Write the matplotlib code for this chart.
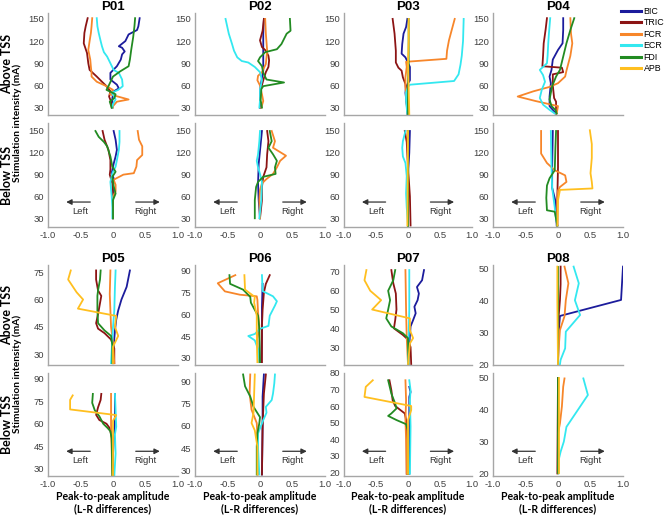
import matplotlib
matplotlib.use('Agg')
import matplotlib.pyplot as plt
from matplotlib.lines import Line2D

MUSCLES = ['BIC', 'TRIC', 'FCR', 'ECR', 'FDI', 'APB']
COLORS = {'BIC': '#1C1C9C', 'TRIC': '#8C1414', 'FCR': '#F7862A',
          'ECR': '#33E8F0', 'FDI': '#228B22', 'APB': '#FFBF1F'}

# each entry: (L-R difference values, stimulation intensity in mA)
p01_above = {
    'BIC': ([0.41, 0.39, 0.37, 0.24, 0.19, 0.09, 0.14, 0.18, 0.14, 0.12, 0.06, -0.04, -0.04, 0.06, 0.09, 0.01, -0.01, -0.01],
            [151, 140, 135, 129, 120, 113, 111, 106, 102, 95, 86, 77, 68, 61, 56, 52, 43, 30]),
    'TRIC': ([-0.39, -0.42, -0.44, -0.45, -0.40, -0.38, -0.36, -0.25, -0.17, -0.10, -0.04, -0.06, -0.03, -0.02],
             [151, 140, 131, 117, 104, 90, 81, 72, 65, 59, 52, 45, 38, 30]),
    'FCR': ([-0.32, -0.33, -0.34, -0.36, -0.38, -0.35, -0.34, -0.33, -0.33, -0.25, -0.10, 0.0, -0.05, 0.24, 0.06, 0.0, 0.0],
            [151, 140, 131, 120, 108, 95, 85, 77, 72, 65, 59, 54, 48, 41, 38, 32, 30]),
    'ECR': ([-0.25, -0.24, -0.22, -0.19, -0.17, -0.14, -0.09, -0.04, 0.01, 0.09, 0.14, 0.15, 0.08, -0.02, 0.02, 0.04, 0.0, -0.01],
            [151, 140, 131, 120, 113, 105, 99, 90, 81, 77, 68, 59, 54, 50, 45, 41, 35, 30]),
    'FDI': ([0.34, 0.33, 0.31, 0.28, 0.26, 0.24, 0.11, 0.0, -0.07, -0.10, 0.04, 0.02, -0.05, -0.02],
            [151, 140, 125, 108, 95, 86, 79, 72, 59, 54, 48, 43, 38, 30]),
}
p01_below = {
    'BIC': ([0.01, 0.04, 0.06, 0.04, 0.01, -0.02, 0.01, 0.0, 0.0, 0.0, 0.0],
            [150, 138, 124, 115, 105, 92, 85, 75, 60, 45, 30]),
    'TRIC': ([-0.16, -0.13, -0.07, -0.04, -0.04, -0.05, -0.01, 0.0, 0.0, 0.0],
             [150, 138, 124, 110, 97, 90, 78, 60, 45, 30]),
    'FCR': ([0.38, 0.40, 0.45, 0.45, 0.37, 0.36, 0.32, 0.16, 0.01, 0.04, 0.04, 0.0, 0.0, 0.0],
            [150, 138, 129, 117, 110, 101, 92, 90, 83, 76, 67, 60, 45, 30]),
    'ECR': ([0.10, 0.10, 0.09, 0.06, 0.04, -0.01, -0.04, -0.03, -0.02, -0.01, -0.01],
            [150, 135, 124, 110, 101, 92, 80, 70, 60, 45, 30]),
    'FDI': ([-0.27, -0.22, -0.14, -0.09, -0.04, -0.01, 0.04, -0.01, 0.01, 0.04, 0.0, 0.0, 0.0],
            [150, 142, 135, 129, 115, 101, 94, 87, 74, 64, 55, 45, 30]),
}
p02_above = {
    'BIC': ([0.06, 0.05, 0.05, 0.05, 0.05, 0.03, 0.01, 0.0, 0.0, 0.0],
            [150, 130, 110, 90, 80, 70, 60, 50, 40, 30]),
    'TRIC': ([0.06, 0.04, 0.0, 0.03, 0.09, 0.13, 0.14, 0.13, 0.09, 0.05, 0.01, 0.0, 0.0],
             [150, 134, 121, 112, 107, 100, 94, 85, 78, 67, 54, 41, 30]),
    'FCR': ([0.08, 0.09, 0.11, 0.09, 0.03, -0.03, -0.04, 0.0, 0.03, 0.05, 0.02],
            [150, 130, 107, 89, 78, 73, 67, 60, 48, 39, 30]),
    'ECR': ([-0.53, -0.48, -0.43, -0.40, -0.35, -0.28, -0.18, -0.08, 0.0, 0.03, 0.0, 0.0, -0.01],
            [150, 130, 116, 107, 98, 93, 91, 85, 78, 67, 54, 40, 30]),
    'FDI': ([0.46, 0.47, 0.41, 0.33, 0.26, 0.08, 0.0, -0.03, 0.03, 0.05, 0.10, 0.37, 0.05, 0.02, 0.01, 0.03],
            [150, 134, 130, 116, 109, 105, 98, 93, 86, 77, 68, 64, 59, 55, 40, 30]),
}
p02_below = {
    'BIC': ([0.03, 0.0, -0.02, -0.03, -0.02, 0.0],
            [150, 123, 105, 78, 55, 30]),
    'TRIC': ([0.11, 0.13, 0.11, 0.10, 0.05, 0.03, 0.03, 0.0],
             [150, 136, 118, 100, 87, 73, 55, 30]),
    'FCR': ([0.18, 0.23, 0.20, 0.40, 0.31, 0.26, 0.20, 0.10, 0.03, 0.0, -0.01, 0.0],
            [150, 136, 127, 116, 109, 100, 91, 84, 78, 69, 55, 30]),
    'ECR': ([0.0, -0.01, -0.03, -0.05, -0.03, 0.0, 0.03, 0.02, -0.01],
            [150, 136, 118, 109, 100, 91, 80, 55, 30]),
    'FDI': ([0.15, 0.18, 0.13, 0.20, 0.26, 0.23, 0.24, 0.05, -0.03, -0.06, -0.08, -0.08],
            [150, 136, 127, 118, 109, 100, 91, 87, 80, 73, 55, 30]),
}
p03_above = {
    'BIC': ([-0.01, -0.03, -0.07, -0.09, -0.10, -0.04, 0.03, 0.03, -0.03, -0.04, 0.0],
            [150, 139, 130, 116, 103, 98, 85, 67, 58, 50, 20]),
    'TRIC': ([-0.24, -0.21, -0.19, -0.19, -0.15, -0.10, -0.08, -0.04, -0.03, -0.01],
             [150, 130, 107, 91, 84, 80, 71, 62, 48, 20]),
    'FCR': ([0.73, 0.68, 0.64, 0.61, 0.60, -0.03, -0.02, -0.04, -0.04, -0.03, 0.0],
            [150, 134, 121, 107, 96, 92, 85, 71, 60, 48, 20]),
    'ECR': ([0.87, 0.86, 0.84, 0.82, 0.79, 0.72, 0.03, 0.0, -0.03, -0.03, -0.01],
            [150, 120, 100, 88, 75, 66, 61, 58, 50, 40, 20]),
    'FDI': ([0.01, 0.01, 0.0, 0.0], [150, 90, 60, 20]),
    'APB': ([0.01, 0.01, 0.0, 0.01, 0.02], [150, 120, 90, 60, 20]),
}
p03_below = {
    'BIC': ([0.03, 0.02, 0.0, 0.0, 0.0], [150, 120, 90, 60, 20]),
    'TRIC': ([-0.05, -0.02, 0.0, 0.03, 0.04], [150, 135, 100, 60, 20]),
    'FCR': ([-0.01, 0.0, 0.0, 0.0], [150, 100, 60, 20]),
    'ECR': ([-0.04, -0.08, -0.09, -0.08, -0.04, -0.02, -0.03, -0.02, 0.0],
            [150, 136, 127, 115, 106, 88, 64, 45, 20]),
    'FDI': ([0.0, 0.0, 0.0, 0.0], [150, 100, 60, 20]),
    'APB': ([0.0, -0.01], [150, 20]),
}
p04_above = {
    'BIC': ([0.08, 0.08, 0.07, 0.0, -0.08, -0.10, -0.13, -0.11, -0.13, -0.13, -0.03],
            [151, 135, 117, 108, 95, 81, 72, 63, 45, 32, 22]),
    'TRIC': ([-0.17, -0.19, -0.22, -0.23, -0.24, 0.06, 0.08, -0.08, -0.08, -0.06, -0.03, -0.03],
             [151, 136, 117, 100, 86, 84, 78, 75, 60, 43, 38, 22]),
    'FCR': ([0.19, 0.20, 0.22, 0.19, 0.16, 0.13, 0.11, 0.0, -0.13, -0.38, -0.62, -0.35, 0.0, -0.02],
            [151, 130, 117, 100, 90, 80, 72, 63, 58, 52, 45, 39, 32, 22]),
    'ECR': ([-0.12, -0.14, -0.15, -0.16, -0.17, -0.28, -0.23, -0.20, -0.25, -0.28, -0.23, -0.13, -0.05],
            [151, 130, 117, 100, 90, 81, 74, 65, 54, 43, 34, 27, 22]),
    'FDI': ([0.25, 0.19, 0.13, 0.08, 0.03, -0.03, -0.09, -0.13, -0.10, -0.04, -0.02],
            [151, 135, 117, 99, 81, 72, 59, 41, 32, 27, 22]),
}
p04_below = {
    'BIC': ([-0.08, -0.09, -0.09, -0.04, -0.02], [150, 100, 72, 54, 20]),
    'TRIC': ([0.0, 0.0, -0.01, -0.01], [150, 100, 60, 20]),
    'FCR': ([-0.26, -0.26, -0.17, -0.05, 0.11, 0.13, 0.03, 0.0, -0.01, -0.01],
            [150, 119, 106, 96, 89, 80, 73, 68, 55, 20]),
    'ECR': ([-0.11, -0.10, -0.09, -0.05, -0.04, -0.01], [150, 100, 72, 45, 35, 20]),
    'FDI': ([-0.03, -0.04, -0.05, -0.13, -0.17, -0.18, -0.17, -0.05, -0.01],
            [150, 127, 96, 85, 75, 58, 41, 39, 20]),
    'APB': ([0.49, 0.52, 0.52, 0.50, 0.52, 0.53, 0.03, 0.0, -0.01],
            [151, 132, 113, 92, 80, 71, 69, 55, 20]),
}
p05_above = {
    'BIC': ([0.26, 0.21, 0.13, 0.08, 0.05, 0.03, 0.0, 0.0], [76, 67, 60, 54, 49, 43, 30, 25]),
    'TRIC': ([-0.26, -0.26, -0.23, -0.18, -0.20, -0.23, -0.26, -0.23, -0.13, -0.03, 0.02, 0.02],
             [76, 71, 65, 62, 58, 52, 47, 44, 41.5, 38, 33, 25]),
    'FCR': ([-0.04, -0.05, -0.03, 0.0, 0.02], [76, 63, 45, 36, 25]),
    'ECR': ([0.04, 0.03, 0.02, 0.0, -0.03], [76, 67, 54, 45, 25]),
    'FDI': ([-0.19, -0.20, -0.23, -0.24, -0.24, -0.23, -0.13, -0.03, -0.01, -0.01],
            [76, 71, 65, 62, 54, 47, 43, 40, 35, 25]),
    'APB': ([-0.65, -0.69, -0.56, -0.46, -0.54, 0.05, 0.03, 0.08, 0.0, 0.0],
            [76, 71, 64, 60, 55, 51, 45, 40, 34, 25]),
}
p05_below = {
    'BIC': ([0.03, 0.03, 0.0, 0.0], [80, 62, 40, 25]),
    'TRIC': ([-0.18, -0.19, -0.23, -0.26, -0.21, -0.10, -0.05, -0.02, 0.0],
             [80, 76, 71, 66, 62.5, 60, 57, 51, 25]),
    'FCR': ([-0.03, -0.03, -0.01], [80, 60, 25]),
    'ECR': ([0.03, 0.05, 0.03, 0.04, 0.02], [80, 58, 53, 40, 25]),
    'FDI': ([-0.31, -0.32, -0.28, -0.21, -0.15, -0.08, -0.04, -0.02, -0.01],
            [80, 74, 69, 65, 60, 57, 55, 50, 25]),
    'APB': ([-0.62, -0.66, -0.66, 0.05, 0.0, 0.0, 0.0], [79, 76, 69.6, 65.8, 62, 45, 25]),
}
p06_above = {
    'BIC': ([0.04, 0.03, 0.03, 0.02], [81, 65, 45, 27]),
    'TRIC': ([0.15, 0.09, 0.06, 0.04, 0.03, 0.03], [87, 81, 75, 63, 52, 27]),
    'FCR': ([-0.38, -0.65, -0.54, -0.31, -0.05, -0.04, -0.03, -0.01, -0.04, -0.03],
            [87, 81.4, 75.8, 73.5, 72.4, 70, 61, 52, 43, 27]),
    'ECR': ([0.03, 0.04, 0.20, 0.26, 0.23, 0.15, 0.13, 0.0, -0.08, -0.18, -0.08, -0.03, -0.01],
            [87, 76, 72.4, 69, 66, 59, 52, 50, 46.4, 45, 42, 36, 27]),
    'FDI': ([-0.47, -0.46, -0.26, -0.15, -0.14, -0.08, -0.03, -0.01, 0.0],
            [87, 81, 77, 72, 68, 63, 59, 50, 27]),
    'APB': ([-0.24, -0.23, -0.08, -0.09, -0.05, -0.05, -0.04], [87, 77, 72, 68, 59, 48, 27]),
}
p06_below = {
    'BIC': ([0.06, 0.04, 0.04, 0.03], [95, 80, 60, 27]),
    'TRIC': ([0.09, 0.06, 0.04, 0.03], [95, 82, 60, 27]),
    'FCR': ([-0.15, -0.16, -0.13, -0.05, -0.03, -0.03], [95, 82, 71, 62, 45, 27]),
    'ECR': ([0.23, 0.22, 0.20, 0.18, 0.09, 0.10, 0.05, -0.03, -0.03, -0.01],
            [95, 89, 82, 77.6, 73, 69, 64, 55, 45, 27]),
    'FDI': ([-0.26, -0.23, -0.15, -0.10, 0.0, -0.01, -0.04, -0.05, -0.05],
            [95, 87, 80, 73, 66, 62, 55, 46, 27]),
    'APB': ([-0.08, -0.09, -0.10, -0.13, -0.08, -0.04, -0.04], [95, 82, 69, 62, 57, 46, 27]),
}
p07_above = {
    'BIC': ([0.25, 0.22, 0.14, 0.17, 0.15, 0.10, 0.12, 0.08, 0.04, 0.03, 0.0],
            [71, 65.6, 62, 58.5, 55, 51.5, 48, 44.4, 41, 36, 21]),
    'TRIC': ([-0.26, -0.23, -0.19, -0.18, -0.20, -0.22, -0.08, 0.0, 0.04, 0.05],
             [71, 64, 58.5, 50, 44.4, 40, 36.5, 34, 30, 21]),
    'FCR': ([-0.04, -0.03, -0.02, 0.0], [71, 50, 35, 21]),
    'ECR': ([0.02, 0.02, 0.0], [71, 50, 21]),
    'FDI': ([-0.20, -0.23, -0.31, -0.28, -0.31, -0.34, -0.26, -0.08, 0.0, 0.01],
            [71, 65.6, 60, 55, 50, 45.3, 41, 37.4, 34.8, 21]),
    'APB': ([-0.65, -0.68, -0.59, -0.42, -0.56, 0.03, 0.03, 0.08, 0.03, 0.0],
            [71, 65.6, 60, 55, 50, 45.3, 39, 34.8, 32, 21]),
}
p07_below = {
    'BIC': ([0.02, 0.04, 0.02, 0.02], [71.6, 68.5, 65.5, 19]),
    'TRIC': ([-0.29, -0.26, -0.24, -0.20, -0.05, -0.03, -0.02, -0.02],
             [75.6, 69.6, 63.5, 60, 55.5, 51.5, 47.5, 19]),
    'FCR': ([-0.04, -0.03, -0.04, -0.03, -0.02], [75.6, 63.5, 51.5, 40, 19]),
    'ECR': ([0.02, 0.04, 0.03, 0.04, 0.03], [75.6, 69.6, 63.5, 47.5, 19]),
    'FDI': ([-0.31, -0.26, -0.20, -0.18, -0.26, -0.31, -0.18, -0.03, 0.0, 0.0],
            [75.6, 67.5, 61.5, 58.5, 55.5, 54, 51.5, 49, 45, 19]),
    'APB': ([-0.55, -0.66, -0.68, 0.05, 0.05, 0.0, 0.0], [75.6, 71.6, 65.5, 60, 57.5, 51.5, 19]),
}
p08_above = {
    'BIC': ([1.0, 0.97, 0.03, 0.01, 0.0], [50.5, 40.1, 35.1, 30, 20]),
    'TRIC': ([0.04, 0.04, 0.03, 0.01, 0.0], [50.5, 45, 40, 35, 20]),
    'FCR': ([0.10, 0.16, 0.12, 0.10, 0.03, 0.01, 0.0], [50.5, 45.3, 40, 35, 30.7, 25, 20]),
    'ECR': ([0.24, 0.32, 0.26, 0.34, 0.12, 0.11, 0.04, 0.03], [50.5, 45.3, 40, 35.4, 30.2, 25, 21.4, 20]),
    'FDI': ([0.0, 0.0, 0.0], [50.5, 40, 20]),
    'APB': ([-0.01, -0.01, 0.0], [50.5, 40, 20]),
}
p08_below = {
    'BIC': ([0.0, 0.0], [49.8, 20]),
    'TRIC': ([0.0, -0.01], [49.8, 20]),
    'FCR': ([0.10, 0.08, 0.06, 0.03, 0.0, 0.0], [49.8, 47.2, 41, 35.7, 32.5, 20]),
    'ECR': ([0.39, 0.46, 0.13, 0.09, 0.04, 0.01, 0.01], [49.8, 44.6, 34.6, 30, 26.8, 24.2, 20]),
    'FDI': ([0.0, 0.0, 0.0], [49.8, 35, 20]),
    'APB': ([0.01, 0.01], [49.8, 20]),
}

titles = ['P01', 'P02', 'P03', 'P04', 'P05', 'P06', 'P07', 'P08']
above = [p01_above, p02_above, p03_above, p04_above, p05_above, p06_above, p07_above, p08_above]
below = [p01_below, p02_below, p03_below, p04_below, p05_below, p06_below, p07_below, p08_below]

# axis settings per panel (above, below)
ylims_above = [(20, 158)] * 4 + [(24, 79), (25, 94), (20.5, 73.7), (19.8, 51)]
ylims_below = [(18, 161)] * 4 + [(25, 94), (26, 96), (17.6, 80), (19.2, 51.5)]
yt_big = [30, 60, 90, 120, 150]
yticks_above = [yt_big] * 4 + [[30, 45, 60, 75], [30, 45, 60, 75, 90],
                               [30, 40, 50, 60, 70], [20, 30, 40, 50]]
yticks_below = [yt_big] * 4 + [[30, 45, 60, 75, 90], [30, 45, 60, 75, 90],
                               [20, 30, 40, 50, 60, 70, 80], [20, 30, 40, 50]]

W, H = 668, 516
fig = plt.figure(figsize=(W / 100, H / 100), dpi=100)

cols = [(48, 178), (195, 325), (344, 472), (493, 623)]
rows = [(13, 115), (123, 227), (265, 365), (373, 476)]

TICKFONT = 'Liberation Sans'
LABFONT = 'Lato'
GREY = '#a6a6a6'


def box(l, t, r, b):
    return [l / W, 1 - b / H, (r - l) / W, (b - t) / H]


def draw(ax, data, ylim, yticks, show_x):
    for m in MUSCLES:
        if m in data:
            x, y = data[m]
            ax.plot(x, y, color=COLORS[m], lw=1.3, solid_joinstyle='round')
    ax.set_xlim(-1, 1)
    ax.set_ylim(*ylim)
    ax.set_yticks(yticks)
    ax.set_xticks([-1, -0.5, 0, 0.5, 1])
    for s in ['top', 'right']:
        ax.spines[s].set_visible(False)
    for s in ['left', 'bottom']:
        ax.spines[s].set_color(GREY)
        ax.spines[s].set_linewidth(1.0)
    ax.tick_params(length=0, labelsize=6.8, labelcolor='#404040', pad=3)
    for lab in ax.get_yticklabels():
        lab.set_family(TICKFONT)
    if show_x:
        ax.set_xticklabels(['-1.0', '-0.5', '0', '0.5', '1.0'], family=TICKFONT)
        tr = ax.get_xaxis_transform()
        ax.annotate('', xy=(-0.72, 0.24), xytext=(-0.35, 0.24), xycoords=tr,
                    arrowprops=dict(arrowstyle='-|>', color='#333333', lw=0.9,
                                    mutation_scale=8, shrinkA=0, shrinkB=0))
        ax.annotate('', xy=(0.72, 0.24), xytext=(0.35, 0.24), xycoords=tr,
                    arrowprops=dict(arrowstyle='-|>', color='#333333', lw=0.9,
                                    mutation_scale=8, shrinkA=0, shrinkB=0))
        ax.text(-0.5, 0.15, 'Left', transform=tr, ha='center', va='center',
                fontsize=6.8, color='#333333', family=TICKFONT)
        ax.text(0.5, 0.15, 'Right', transform=tr, ha='center', va='center',
                fontsize=6.8, color='#333333', family=TICKFONT)
    else:
        ax.set_xticklabels([])


for i in range(8):
    c = cols[i % 4]
    ra = rows[2 * (i // 4)]
    rb = rows[2 * (i // 4) + 1]
    ax_a = fig.add_axes(box(c[0], ra[0], c[1], ra[1]))
    draw(ax_a, above[i], ylims_above[i], yticks_above[i], False)
    ax_a.set_title(titles[i], fontsize=9.5, fontweight='bold', family=TICKFONT, pad=2)
    ax_b = fig.add_axes(box(c[0], rb[0], c[1], rb[1]))
    draw(ax_b, below[i], ylims_below[i], yticks_below[i], True)
    if i >= 4:
        xc = (c[0] + c[1]) / 2 / W
        fig.text(xc, 1 - 497 / H, 'Peak-to-peak amplitude', ha='center', va='center',
                 fontsize=7.6, fontweight='bold', family=LABFONT)
        fig.text(xc, 1 - 508.5 / H, '(L-R differences)', ha='center', va='center',
                 fontsize=7.6, fontweight='bold', family=LABFONT)

# row labels
for k in range(2):
    ra = rows[2 * k]
    rb = rows[2 * k + 1]
    fig.text(7 / W, 1 - (ra[0] + ra[1]) / 2 / H, 'Above TSS', rotation=90, ha='center',
             va='center', fontsize=9, fontweight='bold', family=LABFONT)
    fig.text(7 / W, 1 - (rb[0] + rb[1]) / 2 / H, 'Below TSS', rotation=90, ha='center',
             va='center', fontsize=9, fontweight='bold', family=LABFONT)
    fig.text(17 / W, 1 - ((ra[0] + rb[1]) / 2 + 3) / H, 'Stimulation intensity (mA)',
             rotation=90, ha='center', va='center', fontsize=7.3, fontweight='bold',
             family=LABFONT)

handles = [Line2D([], [], color=COLORS[m], lw=2.2) for m in MUSCLES]
fig.legend(handles, MUSCLES, loc='upper left', bbox_to_anchor=(621 / W, 1 - 7 / H),
           frameon=False, handlelength=2.3, handletextpad=0.25,
           labelspacing=0.28, borderpad=0, borderaxespad=0,
           prop={'family': TICKFONT, 'size': 6.4})

fig.savefig('out.png', dpi=100)
